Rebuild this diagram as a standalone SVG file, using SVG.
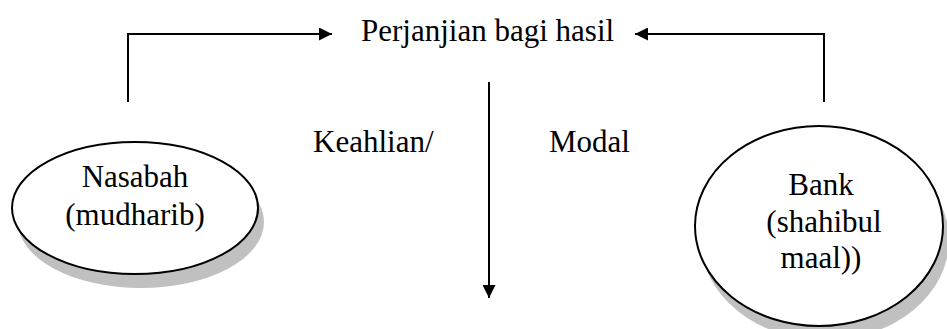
<svg xmlns="http://www.w3.org/2000/svg" width="947" height="329" viewBox="0 0 947 329">
<defs>
<style>
.t{font-family:'Liberation Serif','Times New Roman',Times,serif;font-size:31px;fill:#000}
.c{text-anchor:middle}
.ln{fill:none;stroke:#000;stroke-width:2}
.sh{fill:#c0c0c0;stroke:none}
.el{fill:#fff;stroke:#000;stroke-width:2}
</style>
<marker id="ah" viewBox="0 0 10 10" refX="10" refY="5" markerWidth="13" markerHeight="13" markerUnits="userSpaceOnUse" orient="auto">
<path d="M0,0 L10,5 L0,10 Z" fill="#000"/>
</marker>
</defs>
<rect width="947" height="329" fill="#fff"/>
<g id="connectors">
<path class="ln" d="M128,102 V34 H332" marker-end="url(#ah)"/>
<path class="ln" d="M824,102 V34 H635" marker-end="url(#ah)"/>
<path d="M489,82 V298" class="ln" marker-end="url(#ah)"/>
</g>
<g id="perjanjian">
<text class="t" x="361" y="41">Perjanjian bagi hasil</text>
</g>
<g id="label-keahlian">
<text class="t" x="313" y="152">Keahlian/</text>
</g>
<g id="label-modal">
<text class="t" x="549" y="152">Modal</text>
</g>
<g id="nasabah">
<ellipse class="sh" cx="141" cy="222" rx="123" ry="66"/>
<ellipse class="el" cx="135" cy="208" rx="123" ry="66"/>
<text class="t c" x="135" y="187">Nasabah</text>
<text class="t c" x="135" y="225">(mudharib)</text>
</g>
<g id="bank">
<ellipse class="sh" cx="825" cy="240" rx="124" ry="100"/>
<ellipse class="el" cx="819" cy="226" rx="124" ry="100"/>
<text class="t c" x="821" y="195">Bank</text>
<text class="t c" x="824" y="232">(shahibul</text>
<text class="t c" x="821" y="268">maal))</text>
</g>
</svg>
